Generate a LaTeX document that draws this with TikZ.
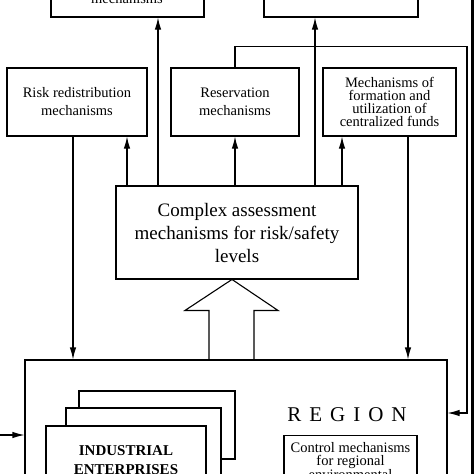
\documentclass[tikz,border=0pt]{standalone}
\usepackage{fontspec}
\setmainfont{Liberation Serif}
\usetikzlibrary{arrows.meta}
\begin{document}
\begin{tikzpicture}[x=1pt, y=-1pt, line width=1.1pt, >={Latex[length=12pt,width=6.5pt]},
  box/.style={draw, align=center, inner sep=2pt},
  txt/.style={font=\fontsize{14.5}{18}\selectfont}]
  \useasboundingbox (0,0) rectangle (474,474);
  \clip (0,0) rectangle (474,474);
  % top boxes (cut off)
  \node[box, minimum width=153pt, minimum height=80pt] (comp) at (127.5,-23) {};
  \node[anchor=base, txt] (compTxt) at (127,3.3) {mechanisms};
  \node[box, minimum width=154pt, minimum height=80pt] (topR) at (341,-23) {};
  % mechanisms row
  \node[box, txt, minimum width=140pt, minimum height=68pt] (risk) at (77,102) {Risk redistribution\\mechanisms};
  \node[box, txt, minimum width=128pt, minimum height=68pt] (reserv) at (235,102) {Reservation\\mechanisms};
  \node[box, minimum width=133pt, minimum height=68pt, font=\fontsize{14.5}{13}\selectfont] (funds) at (389.5,102) {Mechanisms of\\formation and\\utilization of\\centralized funds};
  \node[box, minimum width=242pt, minimum height=93pt, font=\fontsize{19}{23}\selectfont] (assess) at (237,232.5) {Complex assessment\\mechanisms for risk/safety\\levels};
  % region
  \node[box, minimum width=422pt, minimum height=200pt] (region) at (236,460) {};
  \node[font=\fontsize{21}{24}\selectfont] (regionLbl) at (347,415) {R\hspace{8pt}E\hspace{8pt}G\hspace{8pt}I\hspace{8pt}O\hspace{8pt}N};
  \node[box, minimum width=156pt, minimum height=68pt] (ent3) at (157,425) {};
  \node[box, fill=white, minimum width=155pt, minimum height=68pt] (ent2) at (143.5,442) {};
  \node[box, fill=white, minimum width=160pt, minimum height=68pt, font=\bfseries\fontsize{15}{19}\selectfont] (ent1) at (126,460) {INDUSTRIAL\\ENTERPRISES};
  \node[box, anchor=north, inner ysep=7pt, minimum width=133pt, font=\fontsize{14.5}{13}\selectfont] (ctrl) at (350.5,435) {Control mechanisms\\for regional\\environmental};
  % connectors
  \draw[->] ([xshift=-4pt]risk.south) -- ([xshift=-4pt]risk.south |- region.north);
  \draw[->] ([xshift=-110pt]assess.north) -- ([xshift=-110pt]assess.north |- risk.south);
  \draw[->] ([xshift=-79pt]assess.north) -- ([xshift=-79pt]assess.north |- comp.south);
  \draw[->] (assess.north -| reserv.south) -- (reserv.south);
  \draw[->] ([xshift=78pt]assess.north) -- ([xshift=78pt]assess.north |- topR.south);
  \draw[->] ([xshift=105pt]assess.north) -- ([xshift=105pt]assess.north |- funds.south);
  \draw[->] ([xshift=18.5pt]funds.south) -- ([xshift=18.5pt]funds.south |- region.north);
  \coordinate (fb) at (467,413);
  \draw[->] (reserv.north) -- ++(0,-21) -| (fb) -- (fb -| region.east);
  \coordinate (inL) at (0,435);
  \draw[->] (inL) -- (inL -| region.west);
  % hollow arrow
  \coordinate (ha) at ([xshift=-28pt]assess.south |- region.north);
  \draw (ha) -- ++(0,-49) -- ++(-24,0) -- ++(47,-31) -- ++(46,31) -- ++(-24,0) -- ++(0,49);
  \draw[line width=3pt] (472.5,0) -- (472.5,474);
\end{tikzpicture}
\end{document}
